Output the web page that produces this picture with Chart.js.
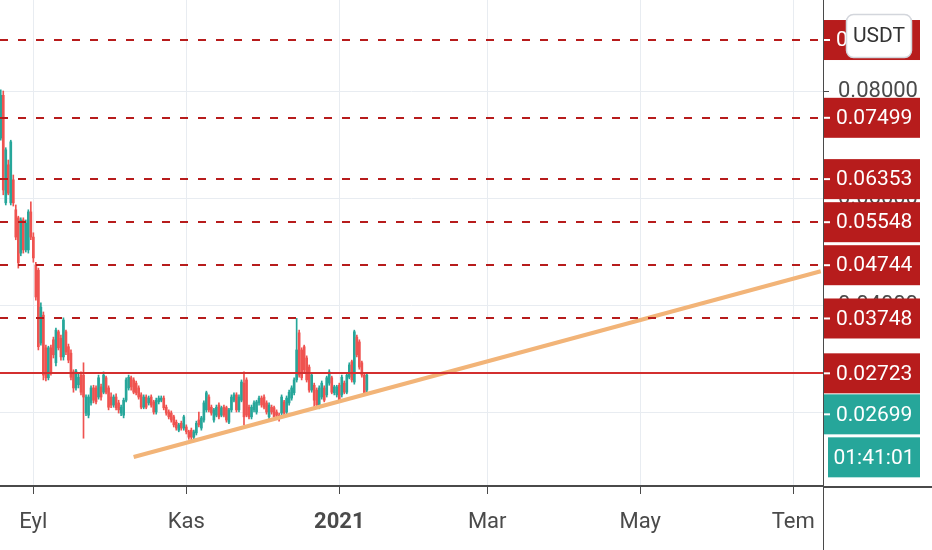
<!DOCTYPE html>
<html>
<head>
<meta charset="utf-8">
<script src="https://cdn.jsdelivr.net/npm/chart.js@4.4.0/dist/chart.umd.min.js"></script>
<style>
    html, body { margin: 0; padding: 0; background: #fff; }
    #wrap { width: 932px; height: 550px; }
</style>
</head>
<body>
<div id="wrap"><canvas id="chart" width="932" height="550"></canvas></div>
<script>
// 日线数据：2020-08-19 起，每天一根
const firstDate = '2020-08-19';
const opens = [
    .0712,.0792,.0591,.0662,.0591,.0634,.0578,.0563,.0497,.0559,.0503,.0503,.0574,.0527,.0475,.0465,.0329,.0381,.0320,.0264,
    .0320,.0335,.0292,.0350,.0338,.0303,.0350,.0322,.0310,.0275,.0245,.0251,.0269,.0269,.0198,.0194,.0217,
    .0245,.0245,.0228,.0247,.0237,.0264,.0245,.0228,.0213,.0228,.0217,.0198,.0194,.0222,.0245,.0264,.0260,.0254,.0245,.0232,
    .0209,.0228,.0217,.0228,.0219,.0200,.0219,.0222,.0226,.0209,.0200,.0198,.0191,.0181,.0166,.0179,.0170,.0172,
    .0163,.0166,.0153,.0161,.0185,.0170,.0185,.0204,.0228,.0209,.0185,.0194,.0213,.0194,.0209,.0208,.0181,.0204,.0222,.0232,
    .0204,.0222,.0254,.0260,.0209,.0191,.0204,.0200,.0217,.0226,.0228,.0217,.0191,.0209,.0208,.0200,.0194,.0198,
    .0219,.0200,.0217,.0226,.0236,.0260,.0348,.0316,.0322,.0301,.0284,.0241,.0250,.0241,.0209,.0228,.0245,.0232,.0254,.0264,
    .0236,.0232,.0250,.0232,.0254,.0237,.0265,.0294,.0256,.0340,.0331,.0292,.0269,.0241
];
const highs = [
    .0802,.0800,.0694,.0671,.0708,.0643,.0587,.0566,.0563,.0563,.0559,.0578,.0593,.0535,.0480,.0469,.0404,.0387,.0325,.0323,
    .0325,.0340,.0357,.0353,.0344,.0376,.0353,.0327,.0316,.0279,.0280,.0271,.0275,.0292,.0232,.0232,.0249,
    .0250,.0249,.0269,.0252,.0275,.0267,.0249,.0236,.0232,.0234,.0222,.0213,.0226,.0264,.0269,.0267,.0264,.0258,.0249,.0236,
    .0232,.0232,.0230,.0232,.0222,.0226,.0230,.0230,.0230,.0213,.0204,.0202,.0194,.0185,.0179,.0183,.0194,.0176,
    .0166,.0170,.0166,.0183,.0200,.0192,.0221,.0239,.0232,.0213,.0207,.0213,.0217,.0211,.0213,.0211,.0207,.0232,.0236,.0236,
    .0232,.0260,.0275,.0264,.0213,.0213,.0221,.0222,.0230,.0230,.0232,.0221,.0217,.0213,.0211,.0204,.0198,.0232,
    .0222,.0230,.0241,.0249,.0264,.0375,.0353,.0320,.0325,.0305,.0288,.0273,.0254,.0245,.0249,.0258,.0249,.0267,.0279,.0267,
    .0250,.0250,.0254,.0269,.0258,.0273,.0292,.0297,.0353,.0344,.0335,.0295,.0273,.0273
];
const lows = [
    .0708,.0606,.0587,.0606,.0587,.0585,.0522,.0469,.0492,.0497,.0499,.0497,.0522,.0480,.0409,.0316,.0325,.0260,.0258,.0260,
    .0269,.0301,.0286,.0316,.0297,.0297,.0307,.0292,.0260,.0237,.0241,.0245,.0232,.0151,.0193,.0189,.0213,
    .0217,.0215,.0224,.0222,.0234,.0234,.0204,.0208,.0209,.0204,.0198,.0193,.0189,.0219,.0241,.0241,.0234,.0232,.0224,.0206,
    .0206,.0206,.0213,.0209,.0196,.0196,.0215,.0219,.0204,.0194,.0187,.0181,.0172,.0166,.0163,.0166,.0166,.0159,
    .0149,.0148,.0149,.0157,.0172,.0166,.0181,.0200,.0200,.0194,.0181,.0191,.0187,.0191,.0191,.0181,.0178,.0200,.0219,.0200,
    .0200,.0219,.0176,.0191,.0187,.0187,.0200,.0196,.0213,.0209,.0206,.0196,.0187,.0196,.0187,.0191,.0183,.0194,
    .0194,.0196,.0213,.0222,.0232,.0256,.0265,.0260,.0275,.0256,.0237,.0237,.0209,.0209,.0206,.0224,.0219,.0228,.0250,.0234,
    .0232,.0228,.0219,.0228,.0234,.0234,.0262,.0256,.0252,.0303,.0280,.0265,.0234,.0237
];
const closes = [
    .0792,.0615,.0690,.0609,.0705,.0591,.0527,.0479,.0559,.0503,.0553,.0574,.0527,.0488,.0415,.0322,.0396,.0269,.0264,.0320,
    .0275,.0307,.0353,.0320,.0303,.0372,.0312,.0297,.0265,.0245,.0277,.0265,.0237,.0228,.0228,.0228,.0245,
    .0222,.0219,.0264,.0228,.0269,.0237,.0209,.0213,.0228,.0208,.0204,.0209,.0222,.0260,.0265,.0247,.0237,.0236,.0228,.0209,
    .0228,.0209,.0226,.0213,.0200,.0222,.0226,.0226,.0208,.0198,.0191,.0185,.0176,.0170,.0176,.0170,.0191,.0163,
    .0153,.0153,.0163,.0179,.0176,.0189,.0217,.0236,.0204,.0198,.0204,.0209,.0191,.0208,.0194,.0185,.0204,.0228,.0232,.0204,
    .0228,.0256,.0191,.0194,.0191,.0209,.0217,.0219,.0226,.0213,.0209,.0200,.0213,.0200,.0191,.0194,.0189,.0228,
    .0198,.0226,.0237,.0245,.0260,.0316,.0269,.0264,.0279,.0260,.0241,.0269,.0222,.0213,.0245,.0254,.0222,.0264,.0275,.0237,
    .0247,.0247,.0222,.0265,.0237,.0269,.0288,.0260,.0350,.0307,.0284,.0269,.0236,.0269
];

// 横轴刻度（月初）
const tickDates = ['2020-09-01', '2020-11-01', '2021-01-01', '2021-03-01', '2021-05-01', '2021-07-01'];
const tickLabels = ['Eyl', 'Kas', '2021', 'Mar', 'May', 'Tem'];
// 纵轴刻度
const yTicks = [0.02, 0.04, 0.06, 0.08];

// 水平价位线（虚线）与实线
const levels = [0.08953, 0.07499, 0.06353, 0.05548, 0.04744, 0.03748];
const closeLevel = 0.02723;
const lastPrice = 0.02699;
const timerText = '01:41:01';
const currency = 'USDT';

// 趋势线两点 [日期, 价格]
const trendDates = ['2020-10-11', '2021-07-12'];
const trendValues = [0.0116, 0.0463];

// 视图范围
const xMin = -13.3, xMax = 314.9;
const yMin = 0.00617, yMax = 0.09701;

const DAY = 86400000;
const epoch = Date.parse('2020-09-01');
const toDay = (d) => (Date.parse(d) - epoch) / DAY;
const day0 = toDay(firstDate);

const UP = '#26a69a', DOWN = '#ef5350';
const bodies = opens.map((o, i) => ({ x: day0 + i, y: [o, closes[i]] }));
const wicks = lows.map((l, i) => ({ x: day0 + i, y: [l, highs[i]] }));
const candleColors = opens.map((o, i) => closes[i] >= o ? UP : DOWN);
const tickDays = tickDates.map(toDay);
const trend = trendDates.map((d, i) => ({ x: toDay(d), y: trendValues[i] }));

const FONT = 'Roboto';
const AXIS = '#4a4a4a';
const GRID = '#e8ecf1';

const noPadding = (s) => { s.paddingTop = 0; s.paddingBottom = 0; s.paddingLeft = 0; s.paddingRight = 0; };

const overlay = {
    id: 'overlay',
    afterDatasetsDraw(chart) {
        const { ctx, chartArea: a, scales: { y } } = chart;
        ctx.save();
        ctx.beginPath();
        ctx.rect(a.left, a.top, a.right - a.left, a.bottom - a.top);
        ctx.clip();
        ctx.lineWidth = 2;
        ctx.strokeStyle = '#b71c1c';
        ctx.setLineDash([8, 10]);
        levels.forEach(v => {
            const py = Math.round(y.getPixelForValue(v));
            ctx.beginPath();
            ctx.moveTo(a.left, py);
            ctx.lineTo(a.right, py);
            ctx.stroke();
        });
        ctx.setLineDash([]);
        ctx.strokeStyle = '#d32f2f';
        const py = Math.round(y.getPixelForValue(closeLevel));
        ctx.beginPath();
        ctx.moveTo(a.left, py);
        ctx.lineTo(a.right, py);
        ctx.stroke();
        ctx.restore();
    },
    afterDraw(chart) {
        const { ctx, chartArea: a, scales: { y } } = chart;
        const W = chart.width, H = chart.height;
        ctx.save();
        // 坐标轴延长线
        ctx.strokeStyle = AXIS;
        ctx.lineWidth = 1;
        ctx.beginPath();
        ctx.moveTo(a.right + 0.5, a.bottom);
        ctx.lineTo(a.right + 0.5, H);
        ctx.stroke();
        ctx.lineWidth = 2;
        ctx.beginPath();
        ctx.moveTo(a.right, a.bottom + 1);
        ctx.lineTo(W, a.bottom + 1);
        ctx.stroke();

        // 价格标签
        const boxL = a.right + 1, boxR = 920, boxH = 40;
        const items = levels.map(v => ({ v, bg: '#b71c1c' }));
        items.push({ v: closeLevel, bg: '#b71c1c' });
        items.push({ v: lastPrice, bg: UP });
        items.forEach(it => { it.py = y.getPixelForValue(it.v); });
        items.sort((p, q) => p.py - q.py);
        let prevBottom = -Infinity;
        ctx.font = '21px ' + FONT;
        ctx.textAlign = 'left';
        ctx.textBaseline = 'middle';
        items.forEach(it => {
            let top = it.py - boxH / 2;
            if (top < prevBottom + 1) top = prevBottom + 1;
            ctx.fillStyle = it.bg;
            ctx.fillRect(boxL, top, boxR - boxL, boxH);
            ctx.strokeStyle = '#fff';
            ctx.lineWidth = 2;
            ctx.beginPath();
            ctx.moveTo(boxL, top + boxH / 2);
            ctx.lineTo(boxL + 6, top + boxH / 2);
            ctx.stroke();
            ctx.fillStyle = '#fff';
            ctx.fillText(it.v.toFixed(5), boxL + 12, top + boxH / 2 + 1);
            prevBottom = top + boxH;
        });
        // 倒计时
        const tTop = prevBottom + 3;
        ctx.fillStyle = UP;
        ctx.fillRect(828, tTop, boxR - 828, boxH);
        ctx.fillStyle = '#fff';
        ctx.textAlign = 'center';
        ctx.fillText(timerText, (828 + boxR) / 2, tTop + boxH / 2 + 1);

        // 货币按钮
        ctx.beginPath();
        ctx.roundRect(846.5, 14.5, 65, 43, 7);
        ctx.fillStyle = '#fff';
        ctx.fill();
        ctx.strokeStyle = '#d3d6dc';
        ctx.lineWidth = 1.5;
        ctx.stroke();
        ctx.fillStyle = '#333';
        ctx.fillText(currency, 879, 37);
        ctx.restore();
    }
};

new Chart(document.getElementById('chart'), {
    type: 'bar',
    data: {
        datasets: [
            {
                type: 'line',
                data: trend,
                borderColor: 'rgb(242,180,120)',
                borderWidth: 4,
                pointRadius: 0,
                tension: 0
            },
            {
                data: bodies,
                backgroundColor: candleColors,
                barThickness: 2,
                minBarLength: 1,
                grouped: false,
                borderWidth: 0
            },
            {
                data: wicks,
                backgroundColor: candleColors,
                barThickness: 1,
                grouped: false,
                borderWidth: 0
            }
        ]
    },
    options: {
        responsive: false,
        animation: false,
        devicePixelRatio: 1,
        layout: { padding: 0 },
        plugins: { legend: { display: false }, tooltip: { enabled: false } },
        scales: {
            x: {
                type: 'linear',
                min: xMin,
                max: xMax,
                offset: false,
                afterBuildTicks: (s) => { s.ticks = tickDays.map(v => ({ value: v })); },
                afterFit: (s) => { s.height = 64; noPadding(s); },
                ticks: {
                    autoSkip: false,
                    maxRotation: 0,
                    padding: 15,
                    color: AXIS,
                    font: (c) => ({ family: FONT, size: 22, weight: c.index === 2 ? 'bold' : 'normal' }),
                    callback: (v, i) => tickLabels[i]
                },
                grid: { color: GRID, offset: false, tickLength: 8, tickColor: AXIS },
                border: { color: AXIS, width: 2 }
            },
            y: {
                type: 'linear',
                position: 'right',
                min: yMin,
                max: yMax,
                afterBuildTicks: (s) => { s.ticks = yTicks.map(v => ({ value: v })); },
                afterFit: (s) => { s.width = 109; noPadding(s); },
                ticks: {
                    padding: 9,
                    color: AXIS,
                    font: { family: FONT, size: 22 },
                    callback: (v) => v.toFixed(5)
                },
                grid: { color: GRID, tickLength: 6, tickColor: AXIS },
                border: { color: AXIS, width: 1 }
            }
        }
    },
    plugins: [overlay]
});
</script>
</body>
</html>
